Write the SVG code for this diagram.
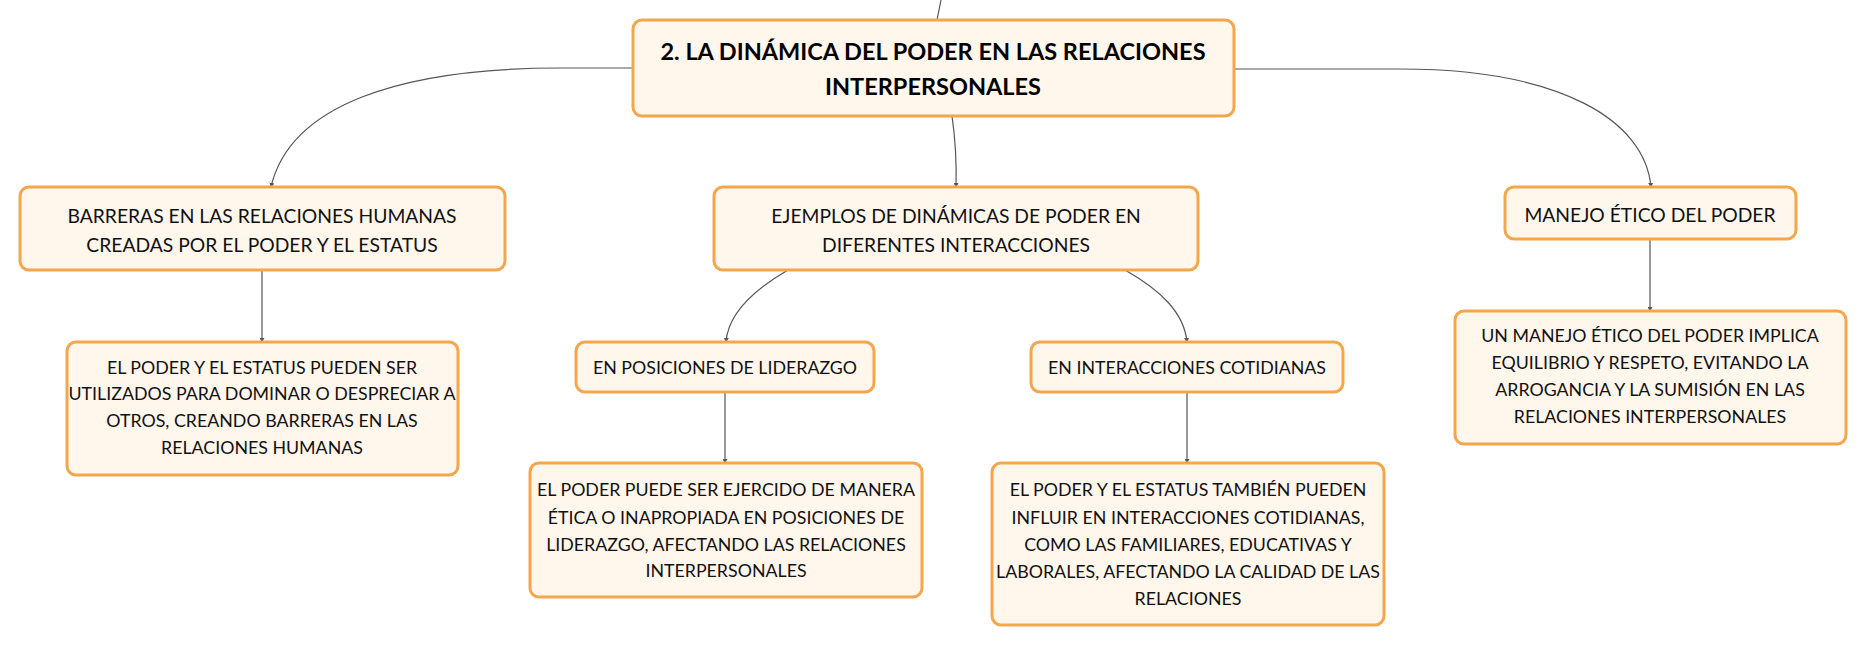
<svg xmlns="http://www.w3.org/2000/svg" width="1867" height="646" viewBox="0 0 1867 646">
<defs>
<marker id="arr" viewBox="0 0 6 6" refX="5" refY="3" markerWidth="5" markerHeight="5" orient="auto" markerUnits="userSpaceOnUse">
<path d="M0,0 L6,3 L0,6 z" fill="#555"/>
</marker>
</defs>
<style>
.box{fill:#FFF6EC;stroke:#F4A64C;stroke-width:3}
.t{font-family:Lato,"Noto Sans",sans-serif;font-size:17.8px;fill:#111;text-anchor:middle;dominant-baseline:central}
.t1{font-size:19.3px}
.tb{font-family:Lato,"Noto Sans",sans-serif;font-size:23.5px;font-weight:bold;fill:#000;text-anchor:middle;dominant-baseline:central}
.c{fill:none;stroke:#555;stroke-width:1.2;marker-end:url(#arr)}
</style>
<rect width="1867" height="646" fill="#fff"/>
<g id="connectors">
<path class="c" d="M941,0 Q939,10 937,20" style="marker-end:none"/>
<path class="c" d="M633,68 L560,68 C400,68 290,105 271,187"/>
<path class="c" d="M1234,69 L1400,69 C1560,69 1645,120 1651,187"/>
<path class="c" d="M952,116 Q957,150 956,187"/>
<path class="c" d="M262,270 L262,342"/>
<path class="c" d="M788,270 C750,292 728,315 726,342"/>
<path class="c" d="M1125,270 C1160,290 1184,312 1187,342"/>
<path class="c" d="M725,392 L725,463"/>
<path class="c" d="M1187,392 L1187,463"/>
<path class="c" d="M1650,239 L1650,311"/>
</g>
<g id="root">
<rect class="box" x="633" y="20" width="601" height="96" rx="9"/>
<text class="tb" x="933" y="51">2. LA DINÁMICA DEL PODER EN LAS RELACIONES</text>
<text class="tb" x="933" y="86">INTERPERSONALES</text>
</g>
<g id="barreras">
<rect class="box" x="20" y="187" width="485" height="83" rx="9"/>
<text class="t t1" x="262" y="215">BARRERAS EN LAS RELACIONES HUMANAS</text>
<text class="t t1" x="262" y="244">CREADAS POR EL PODER Y EL ESTATUS</text>
</g>
<g id="barreras-detalle">
<rect class="box" x="67" y="342" width="391" height="133" rx="9"/>
<text class="t" x="262" y="367">EL PODER Y EL ESTATUS PUEDEN SER</text>
<text class="t" x="262" y="393">UTILIZADOS PARA DOMINAR O DESPRECIAR A</text>
<text class="t" x="262" y="420">OTROS, CREANDO BARRERAS EN LAS</text>
<text class="t" x="262" y="447">RELACIONES HUMANAS</text>
</g>
<g id="ejemplos">
<rect class="box" x="714" y="187" width="484" height="83" rx="9"/>
<text class="t t1" x="956" y="215">EJEMPLOS DE DINÁMICAS DE PODER EN</text>
<text class="t t1" x="956" y="244">DIFERENTES INTERACCIONES</text>
</g>
<g id="liderazgo">
<rect class="box" x="576" y="342" width="298" height="50" rx="9"/>
<text class="t" x="725" y="367">EN POSICIONES DE LIDERAZGO</text>
</g>
<g id="liderazgo-detalle">
<rect class="box" x="530" y="463" width="392" height="134" rx="9"/>
<text class="t" x="726" y="489">EL PODER PUEDE SER EJERCIDO DE MANERA</text>
<text class="t" x="726" y="517">ÉTICA O INAPROPIADA EN POSICIONES DE</text>
<text class="t" x="726" y="544">LIDERAZGO, AFECTANDO LAS RELACIONES</text>
<text class="t" x="726" y="570">INTERPERSONALES</text>
</g>
<g id="cotidianas">
<rect class="box" x="1031" y="342" width="312" height="50" rx="9"/>
<text class="t" x="1187" y="367">EN INTERACCIONES COTIDIANAS</text>
</g>
<g id="cotidianas-detalle">
<rect class="box" x="992" y="463" width="392" height="162" rx="9"/>
<text class="t" x="1188" y="489">EL PODER Y EL ESTATUS TAMBIÉN PUEDEN</text>
<text class="t" x="1188" y="517">INFLUIR EN INTERACCIONES COTIDIANAS,</text>
<text class="t" x="1188" y="544">COMO LAS FAMILIARES, EDUCATIVAS Y</text>
<text class="t" x="1188" y="571">LABORALES, AFECTANDO LA CALIDAD DE LAS</text>
<text class="t" x="1188" y="598">RELACIONES</text>
</g>
<g id="manejo">
<rect class="box" x="1505" y="187" width="291" height="52" rx="9"/>
<text class="t t1" x="1650" y="214">MANEJO ÉTICO DEL PODER</text>
</g>
<g id="manejo-detalle">
<rect class="box" x="1455" y="311" width="391" height="133" rx="9"/>
<text class="t" x="1650" y="335">UN MANEJO ÉTICO DEL PODER IMPLICA</text>
<text class="t" x="1650" y="362">EQUILIBRIO Y RESPETO, EVITANDO LA</text>
<text class="t" x="1650" y="389">ARROGANCIA Y LA SUMISIÓN EN LAS</text>
<text class="t" x="1650" y="416">RELACIONES INTERPERSONALES</text>
</g>
</svg>
